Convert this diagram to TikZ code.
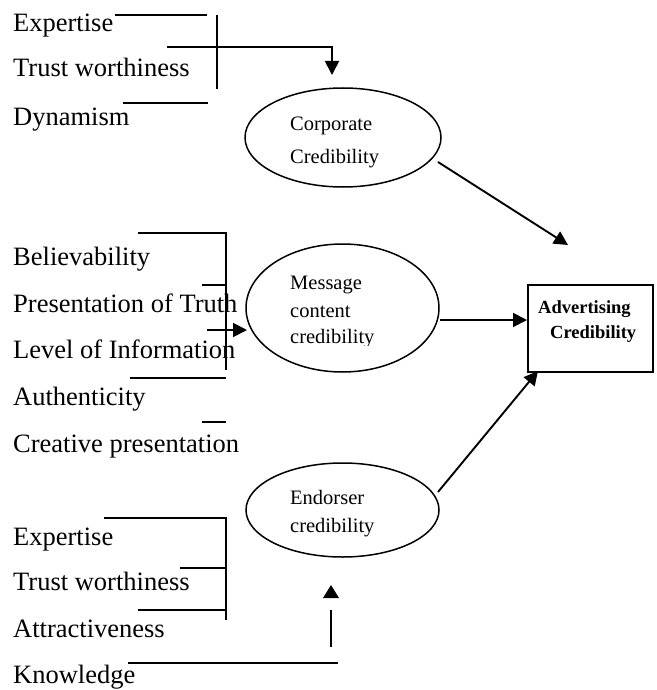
\documentclass[tikz,border=0pt]{standalone}
\usepackage{fontspec}
\setmainfont{Liberation Serif}
\usetikzlibrary{arrows.meta,shapes.geometric}
\begin{document}
\begin{tikzpicture}[x=1pt,y=-1pt,
  item/.style={anchor=base west,inner sep=0pt,font=\fontsize{26.5}{30}\selectfont},
  etext/.style={anchor=base west,inner sep=0pt,font=\fontsize{20.5}{24}\selectfont},
  btext/.style={anchor=base west,inner sep=0pt,font=\fontsize{18.5}{22}\selectfont\bfseries},
  oval/.style={draw,ellipse,line width=1.5pt,inner sep=0pt},
  bar/.style={line width=1.9pt},
  arr/.style={line width=1.9pt,-{Triangle[length=14pt,width=14pt]}},
  ]
\useasboundingbox (0,0) rectangle (656,690);

% --- source construct: corporate credibility
\node[item] (c1) at (13,32) {Expertise};
\node[item] (c2) at (13,77) {Trust worthiness};
\node[item] (c3) at (13,125) {Dynamism};
\coordinate (c1a) at (115,15);  \coordinate (c1b) at (207,15);
\coordinate (cva) at (217,15);  \coordinate (cvb) at (217,89);
\coordinate (c3a) at (123,103); \coordinate (c3b) at (208,103);
\coordinate (cin) at (167,47);  \coordinate (cturn) at (332,47); \coordinate (ctip) at (332,75);
\draw[bar] (c1a) -- (c1b);
\draw[bar] (cva) -- (cvb);
\draw[bar] (c3a) -- (c3b);
\draw[arr] (cin) -- (cturn) -- (ctip);

\node[oval,minimum width=196pt,minimum height=99pt] (corp) at (343,137.5) {};
\node[etext] (corpt1) at (290,130) {Corporate};
\node[etext] (corpt2) at (290,163) {Credibility};

% --- message content credibility
\node[item] (m1) at (13,265) {Believability};
\node[item] (m2) at (13,312) {Presentation of Truth};
\node[item] (m3) at (13,358) {Level of Information};
\node[item] (m4) at (13,405) {Authenticity};
\node[item] (m5) at (13,452) {Creative presentation};
\coordinate (m1a) at (138,233); \coordinate (m1b) at (226,233);
\coordinate (mvb) at (226,370);
\coordinate (m2a) at (202,285); \coordinate (m2b) at (226,285);
\coordinate (m4a) at (130,378); \coordinate (m4b) at (226,378);
\coordinate (m5a) at (202,422); \coordinate (m5b) at (226,422);
\coordinate (min) at (207,330);
\draw[bar] (m1a) -- (m1b) -- (mvb);
\draw[bar] (m2a) -- (m2b);
\draw[bar] (m4a) -- (m4b);
\draw[bar] (m5a) -- (m5b);

\node[oval,minimum width=193pt,minimum height=128pt] (msg) at (342.5,308) {};
\coordinate (mtip) at (247,330);
\draw[arr] (min) -- (mtip);
\node[etext] (msgt1) at (290,289) {Message};
\node[etext] (msgt2) at (290,317) {content};
\begin{scope}
  \clip (280,325) rectangle (440,345.5);
  \node[etext] (msgt3) at (290,343) {credibility};
\end{scope}

% --- endorser credibility
\node[item] (e1) at (13,545) {Expertise};
\node[item] (e2) at (13,590) {Trust worthiness};
\node[item] (e3) at (13,637) {Attractiveness};
\node[item] (e4) at (13,683) {Knowledge};
\coordinate (e1a) at (104,518); \coordinate (e1b) at (226,518);
\coordinate (evb) at (226,620);
\coordinate (e2a) at (180,568); \coordinate (e2b) at (226,568);
\coordinate (e3a) at (138,610); \coordinate (e3b) at (226,610);
\coordinate (e4a) at (128,663); \coordinate (e4b) at (338,663);
\coordinate (eva) at (331,610); \coordinate (evz) at (331,647);
\draw[bar] (e1a) -- (e1b) -- (evb);
\draw[bar] (e2a) -- (e2b);
\draw[bar] (e3a) -- (e3b);
\draw[bar] (e4a) -- (e4b);
\draw[bar] (eva) -- (evz);
\fill (331,585) -- (339,598) -- (323,598) -- cycle;

\node[oval,minimum width=193pt,minimum height=94pt] (end) at (342.5,510) {};
\node[etext] (endt1) at (290,504) {Endorser};
\node[etext] (endt2) at (290,532) {credibility};

% --- outcome
\node[draw,line width=2pt,minimum width=125pt,minimum height=87pt,inner sep=0pt] (adv) at (590.5,328.5) {};
\node[btext] (advt1) at (538,313) {Advertising};
\node[btext] (advt2) at (550,338) {Credibility};

\coordinate (ctgt) at (568,245);
\coordinate (cstart) at (438,162);
\coordinate (estart) at (438,492);
\coordinate (etgt) at (538,371);
\draw[arr] (cstart) -- (ctgt);
\draw[arr] (msg.east |- 0,320) -- (adv.west |- 0,320);
\draw[arr] (estart) -- (etgt);
\end{tikzpicture}
\end{document}
